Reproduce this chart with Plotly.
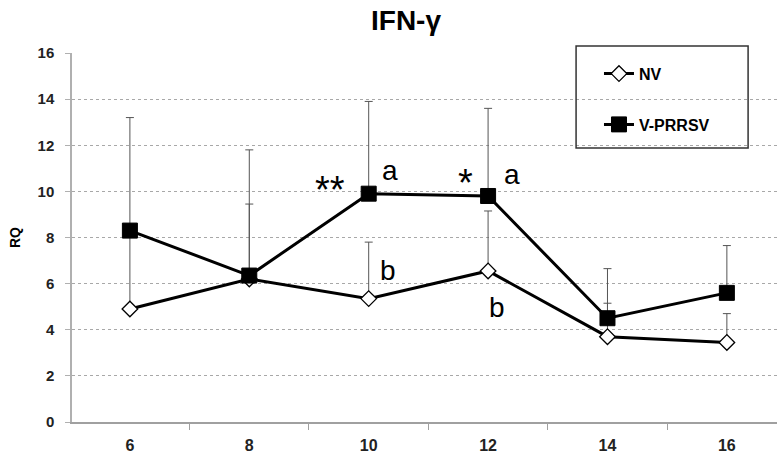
import plotly.graph_objects as go

# Weeks post vaccination and relative quantification (RQ) of IFN-γ
weeks = [6, 8, 10, 12, 14, 16]
week_labels = ["6", "8", "10", "12", "14", "16"]

nv_mean = [4.9, 6.2, 5.35, 6.55, 3.7, 3.45]
nv_err = [3.4, 3.25, 2.45, 2.6, 1.45, 1.25]

vp_mean = [8.3, 6.35, 9.9, 9.8, 4.5, 5.6]
vp_err = [4.9, 5.45, 4.0, 3.8, 2.15, 2.05]

# Significance marks and letter groupings: (text, week, RQ position, font size)
marks = [
    ("**", 9.35, 10.05, 38),
    ("a", 10.36, 10.92, 28),
    ("b", 10.33, 6.58, 28),
    ("*", 11.63, 10.35, 38),
    ("a", 12.4, 10.75, 28),
    ("b", 12.15, 4.97, 28),
]

FONT = "Liberation Sans, Arial, sans-serif"

fig = go.Figure()

fig.add_trace(go.Scatter(
    x=weeks, y=nv_mean, name="NV", mode="lines+markers",
    line=dict(color="black", width=3),
    marker=dict(symbol="diamond", size=12, color="white",
                line=dict(color="black", width=1.3)),
    error_y=dict(type="data", symmetric=False, array=nv_err,
                 arrayminus=[0] * len(nv_err), color="#555555",
                 thickness=1, width=4),
    legendgroup="nv",
))

fig.add_trace(go.Scatter(
    x=weeks, y=vp_mean, name="V-PRRSV", mode="lines+markers",
    line=dict(color="black", width=3),
    marker=dict(symbol="square", size=15, color="black",
                line=dict(color="black", width=1)),
    error_y=dict(type="data", symmetric=False, array=vp_err,
                 arrayminus=[0] * len(vp_err), color="#555555",
                 thickness=1, width=4),
    legendgroup="vp",
))

for text, x, y, size in marks:
    fig.add_annotation(x=x, y=y, xref="x", yref="y", text=text,
                       showarrow=False, font=dict(family=FONT, size=size, color="black"))

# Legend frame
fig.add_shape(type="rect", xref="paper", yref="paper",
              x0=0.715, x1=0.959, y0=0.7425, y1=1.019,
              line=dict(color="#333333", width=1.5), fillcolor="rgba(0,0,0,0)",
              layer="above")

fig.update_layout(
    width=777, height=457,
    margin=dict(l=72, r=0, t=53, b=35),
    paper_bgcolor="white", plot_bgcolor="white",
    title=dict(text="<b>IFN-γ</b>", xref="container", yref="container",
               x=406 / 777, y=1 - 20 / 457, xanchor="center", yanchor="middle",
               font=dict(family=FONT, size=28, color="black")),
    showlegend=True,
    legend=dict(x=0.7475, y=0.99, xanchor="left", yanchor="top",
                bgcolor="rgba(0,0,0,0)", borderwidth=0,
                font=dict(family=FONT, size=16, color="black", weight="bold"),
                tracegroupgap=27, itemsizing="trace"),
    xaxis=dict(range=[5.03, 16.84], tickmode="array", tickvals=weeks,
               ticktext=week_labels, ticks="", showgrid=False, zeroline=False,
               showline=True, linecolor="#a0a0a0", linewidth=2,
               tickfont=dict(family=FONT, size=16, color="#222222", weight="bold"),
               ticklabelstandoff=8,
               minor=dict(tick0=5, dtick=2, ticks="outside", ticklen=6,
                          tickcolor="#a0a0a0", tickwidth=1, showgrid=False)),
    yaxis=dict(range=[0, 16], dtick=2, tick0=0, showgrid=True,
               gridcolor="#a8a8a8", griddash="dot", gridwidth=1,
               zeroline=False, showline=True, linecolor="#b0b0b0", linewidth=1.5,
               ticks="outside", ticklen=5, tickcolor="#b0b0b0",
               tickfont=dict(family=FONT, size=15, color="#222222", weight="bold"),
               ticklabelstandoff=8,
               title=dict(text="<b>RQ</b>", standoff=14,
                          font=dict(family=FONT, size=14, color="black"))),
)

fig.write_html("out.html")
